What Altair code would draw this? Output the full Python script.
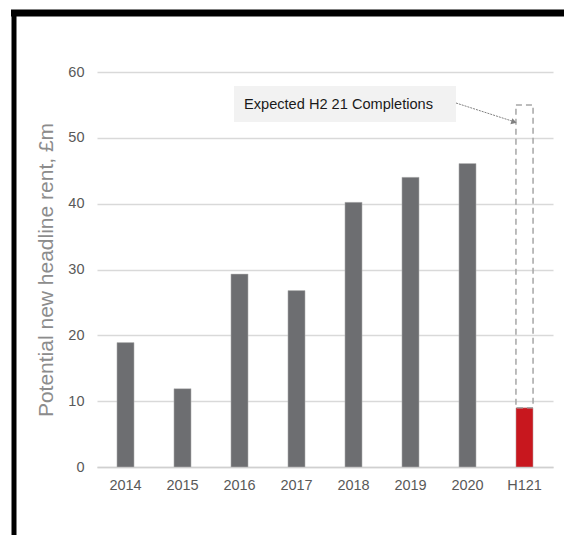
import altair as alt
import pandas as pd

categories = ["2014", "2015", "2016", "2017", "2018", "2019", "2020", "H121"]
values = [18.9, 11.9, 29.3, 26.8, 40.2, 44.0, 46.1, 9.0]
colors = ["#6d6e71"] * 7 + ["#c8171e"]
expected_cat = ["H121"]
expected_low = [9.0]
expected_high = [55.0]
annotation_text = ["Expected H2 21 Completions"]

df = pd.DataFrame({"cat": categories, "val": values, "col": colors})
exp_df = pd.DataFrame({"cat": expected_cat, "lo": expected_low, "hi": expected_high})
ann_df = pd.DataFrame({"t": annotation_text})

W, H = 456, 395

xenc = alt.X("cat:N", sort=categories, title=None,
             scale=alt.Scale(paddingInner=0.7, paddingOuter=0.35),
             axis=alt.Axis(labelAngle=0, labelFont="Liberation Sans", labelFontSize=14.5,
                           labelColor="#595959", labelPadding=11, ticks=False,
                           domain=True, domainColor="#d0d0d0", domainWidth=1.5, grid=False))

yscale = alt.Scale(domain=[0, 60], nice=False)

bars = alt.Chart(df).mark_bar(stroke="#bbbbbb", strokeWidth=0.5).encode(
    x=xenc,
    y=alt.Y("val:Q", scale=yscale, title="Potential new headline rent, £m",
            axis=alt.Axis(values=[0, 10, 20, 30, 40, 50, 60], labelFont="Liberation Sans",
                          labelFontSize=14.5, labelColor="#595959", labelPadding=13,
                          ticks=False, domain=False, grid=True, gridColor="#d9d9d9",
                          gridWidth=1.5, titleFont="Liberation Sans", titleFontSize=21,
                          titleFontWeight="normal", titleColor="#8c8c8c", titlePadding=11)),
    color=alt.Color("col:N", scale=None),
)

dashed = alt.Chart(exp_df).mark_bar(fill="transparent", stroke="#a6a6a6", strokeWidth=1.5,
                                    strokeDash=[6, 4]).encode(
    x=alt.X("cat:N", sort=categories),
    y=alt.Y("lo:Q", scale=yscale),
    y2="hi:Q",
)

box = alt.Chart(ann_df).mark_rect(fill="#f2f2f2").encode(
    x=alt.value(137), x2=alt.value(359), y=alt.value(14), y2=alt.value(50))

txt = alt.Chart(ann_df).mark_text(align="left", baseline="middle", font="Liberation Sans",
                                  fontSize=14.6, color="#1a1a1a").encode(
    x=alt.value(147), y=alt.value(32.5), text="t:N")

arrow = alt.Chart(ann_df).mark_rule(color="#808080", strokeWidth=1, strokeDash=[2, 1]).encode(
    x=alt.value(359), x2=alt.value(418), y=alt.value(31), y2=alt.value(50))

head = alt.Chart(ann_df).mark_point(shape="triangle-right", filled=True, color="#808080",
                                    size=40, angle=18, opacity=1).encode(
    x=alt.value(417), y=alt.value(50))

border_top = alt.Chart(ann_df).mark_rule(color="#000000", strokeWidth=7).encode(
    x=alt.value(-86), x2=alt.value(480), y=alt.value(-59))
border_left = alt.Chart(ann_df).mark_rule(color="#000000", strokeWidth=5).encode(
    x=alt.value(-83), y=alt.value(-62), y2=alt.value(470))

chart = alt.layer(bars, dashed, box, txt, arrow, head, border_top, border_left).properties(
    width=W, height=H,
    autosize=alt.AutoSizeParams(type="none"),
    padding={"left": 97, "top": 72, "right": 11, "bottom": 68},
    background="white",
).configure_view(stroke=None)

chart.save("out.html", embed_options={"renderer": "svg", "actions": False})
